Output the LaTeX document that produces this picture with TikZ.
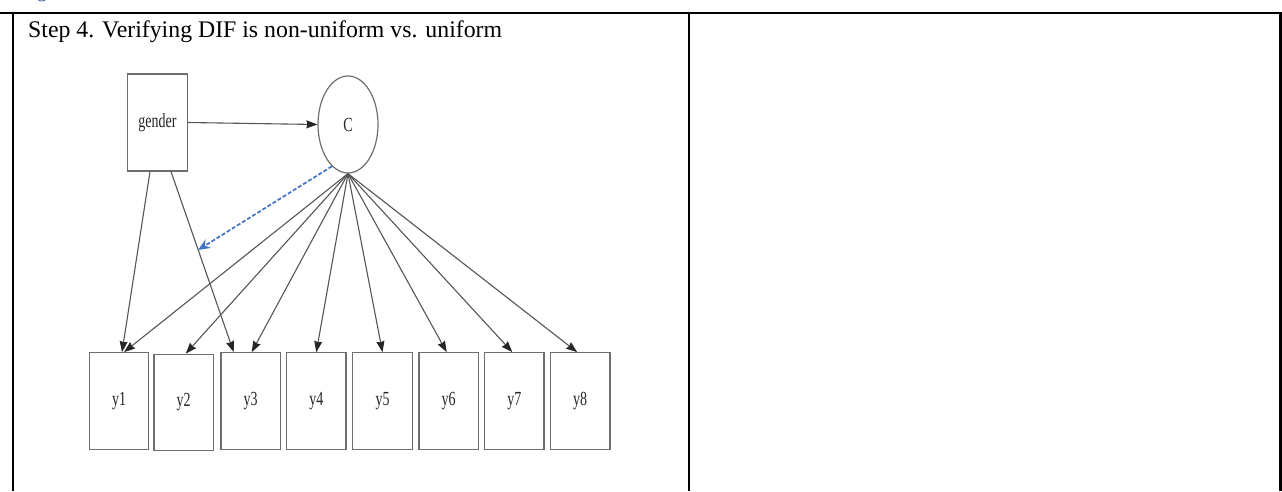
\documentclass[tikz,border=0pt]{standalone}
\usepackage{fontspec}
\setmainfont{Liberation Serif}
\newfontfamily\diagfont[FakeStretch=0.7]{Liberation Serif}
\usetikzlibrary{shapes.geometric,arrows.meta}
\definecolor{linegray}{RGB}{85,85,85}
\definecolor{boxgray}{RGB}{110,110,110}
\definecolor{pathblue}{RGB}{68,114,196}
\definecolor{headblue}{RGB}{47,84,150}
\tikzset{
  frame/.style={line width=2.6pt, black},
  varbox/.style={draw=boxgray, line width=1.2pt, rectangle, minimum width=59.5pt, minimum height=96.5pt, inner sep=0pt,
    font=\diagfont\fontsize{20}{20}\selectfont, text=black!85},
  latent/.style={draw=boxgray, line width=1.2pt, ellipse, minimum width=60pt, minimum height=97pt, inner sep=0pt,
    font=\diagfont\fontsize{20}{20}\selectfont, text=black!85},
  path/.style={draw=linegray, line width=1.1pt, -{Stealth[length=11pt,width=8pt,inset=1pt,fill=black!85,color=black!85]}},
  difpath/.style={draw=pathblue, line width=1.7pt, dash pattern=on 4pt off 2pt, -{Stealth[length=12pt,width=10pt]}}
}
\begin{document}
\begin{tikzpicture}[x=1pt,y=-1pt]
\useasboundingbox (0,0) rectangle (1282,491);

% heading above the table, cut by the page edge
\node[anchor=base west, inner sep=0pt, text=headblue, font=\fontsize{20}{20}\selectfont] (head) at (37,-2.5) {g};

% table rules
\draw[frame] (0,13) -- (1282,13);
\draw[frame] (13,13) -- (13,491);
\draw[frame] (689,13) -- (689,491);
\draw[frame] (1280.5,13) -- (1280.5,491);

\node[anchor=base west, inner sep=0pt, font=\fontsize{23.8}{24}\selectfont] (title) at (28,37.3)
  {Step 4. Verifying DIF is non-uniform vs. uniform};

% covariate and latent factor
\node[varbox, minimum height=97pt] (gender) at (157.5,122.5) {gender};
\node[latent] (C) at (348,124.5) {C};

% indicators
\node[varbox] (y1) at (119,401) {y1};
\node[varbox] (y2) at (183.7,402.5) {y2};
\node[varbox] (y3) at (250.7,401) {y3};
\node[varbox] (y4) at (316.3,401) {y4};
\node[varbox] (y5) at (382.5,401) {y5};
\node[varbox] (y6) at (448.7,401) {y6};
\node[varbox] (y7) at (514.3,401) {y7};
\node[varbox] (y8) at (580.2,401) {y8};

% structural path
\draw[path] (gender.east) -- (C.west);

% direct effects of gender on items
\draw[path] ([xshift=-7.5pt]gender.south) -- ([xshift=3pt]y1.north);
\draw[path] ([xshift=13.5pt]gender.south) -- ([xshift=-17pt]y3.north);

% factor loadings
\draw[path] (C.south) -- ([xshift=5pt]y1.north);
\draw[path] (C.south) -- ([xshift=2pt]y2.north);
\draw[path] (C.south) -- ([xshift=1pt]y3.north);
\draw[path] (C.south) -- (y4.north);
\draw[path] (C.south) -- (y5.north);
\draw[path] (C.south) -- ([xshift=-2pt]y6.north);
\draw[path] (C.south) -- ([xshift=-2pt]y7.north);
\draw[path] (C.south) -- ([xshift=-3pt]y8.north);

% interaction path (non-uniform DIF)
\coordinate (dif) at (198,250);
\draw[difpath] (C.249) -- (dif);
\end{tikzpicture}
\end{document}
